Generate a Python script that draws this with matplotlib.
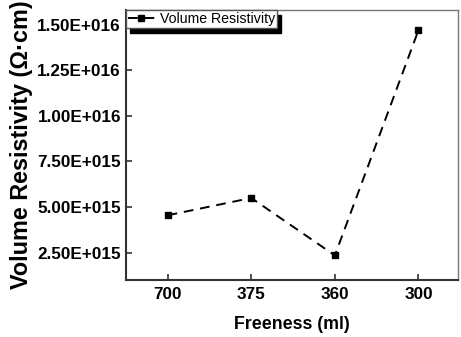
import numpy as np
import matplotlib.pyplot as plt

freeness = ["700", "375", "360", "300"]
resistivity = [4.55e15, 5.5e15, 2.35e15, 1.47e16]
yticks = [2.5e15, 5.0e15, 7.5e15, 1.0e16, 1.25e16, 1.5e16]
ytick_labels = ["2.50E+015", "5.00E+015", "7.50E+015", "1.00E+016", "1.25E+016", "1.50E+016"]

plt.rcParams['font.family'] = ['Liberation Sans', 'DejaVu Sans']

fig = plt.figure(figsize=(4.61, 3.37), dpi=100)
ax = fig.add_axes([0.273, 0.169, 0.72, 0.801])

x = np.arange(len(freeness))
ax.plot(x, resistivity, color='black', linestyle=(0, (5, 3.5)), linewidth=1.4,
        marker='s', markersize=4.5, label='Volume Resistivity')

ax.set_xlim(-0.5, 3.47)
ax.set_ylim(1.0e15, 1.58e16)
ax.set_xticks(x)
ax.set_xticklabels(freeness, fontsize=12.3, fontweight='bold')
ax.set_yticks(yticks)
ax.set_yticklabels(ytick_labels, fontsize=12.3, fontweight='bold')
ax.tick_params(direction='in', length=4, width=1.2, color='#333333', pad=3.5)
ax.tick_params(axis='x', pad=5)

for side in ['left', 'bottom']:
    ax.spines[side].set_linewidth(1.5)
    ax.spines[side].set_color('#333333')
for side in ['top', 'right']:
    ax.spines[side].set_linewidth(1.0)
    ax.spines[side].set_color('#777777')

ax.set_xlabel('Freeness (ml)', fontsize=12.8, fontweight='bold', labelpad=10)
ax.set_ylabel('Volume Resistivity (Ω·cm)', fontsize=16.8, fontweight='bold', labelpad=3)

leg = ax.legend(loc='upper left', borderaxespad=0, fontsize=10.2, fancybox=False,
                shadow={'ox': 3, 'oy': -3.5, 'facecolor': 'black', 'edgecolor': 'black', 'alpha': 1},
                handlelength=1.9, handletextpad=0.35, borderpad=0.15, framealpha=1)
leg.get_frame().set_edgecolor('#555555')
leg.get_frame().set_linewidth(1.0)

fig.savefig('out.png', dpi=100)
